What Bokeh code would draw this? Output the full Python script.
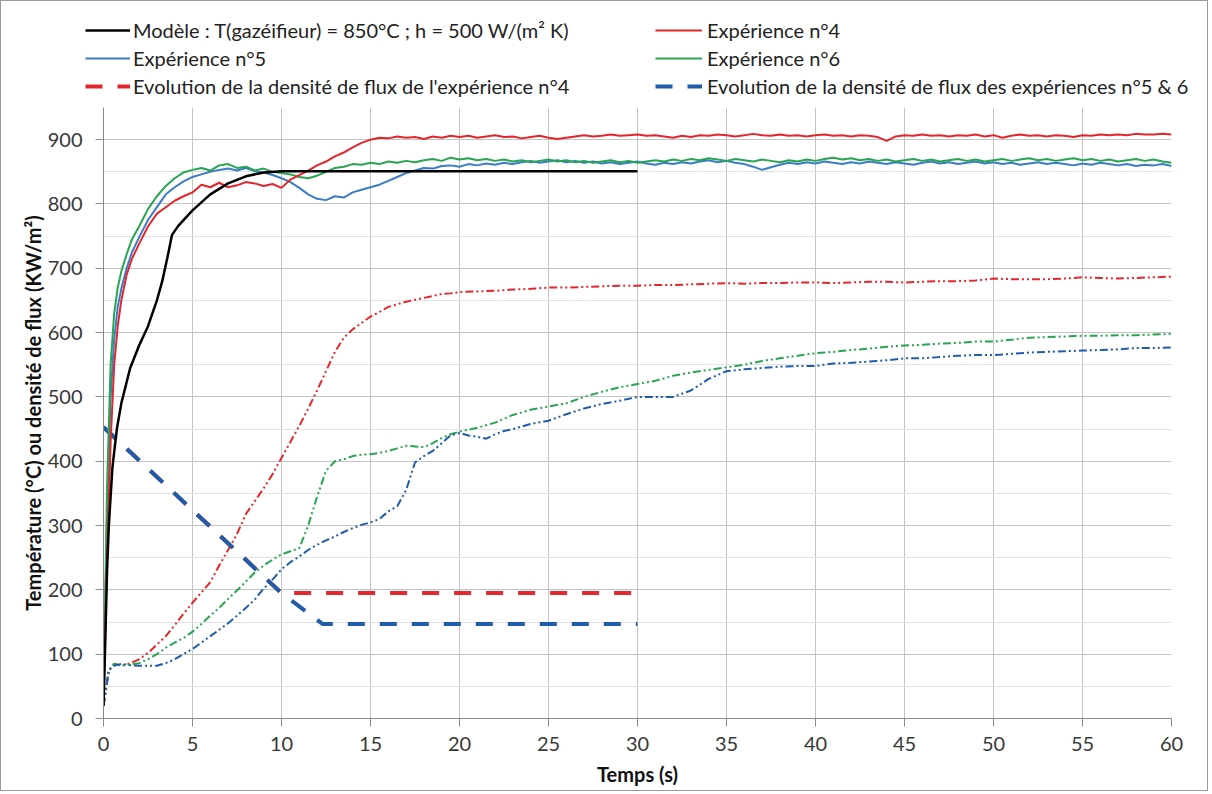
from bokeh.plotting import figure
from bokeh.layouts import column
from bokeh.models import Legend, LegendItem, Range1d, SingleIntervalTicker
from bokeh.embed import file_html
from bokeh.resources import INLINE

# ---------------- data ----------------
t_exp = [0, 0.2, 0.4, 0.6, 0.8, 1.0, 1.3, 1.6] + [2.0 + 0.5 * i for i in range(117)]

exp4 = [20, 250, 430, 550, 610, 650, 690, 715,
        738, 765, 785, 795, 805, 812,
        818, 830, 826, 833, 826, 829, 834, 832, 828, 831,
        825, 838, 845, 852, 860, 866, 874, 880, 888, 895,
        900, 903, 902, 905, 903, 904, 901, 905, 903, 906,
        904, 906, 903, 905, 907, 904, 905, 902, 904, 906,
        903, 901, 903, 905, 907, 905, 906, 908, 906, 907,
        908, 906, 907, 905, 903, 906, 904, 907, 906, 908,
        907, 905, 907, 909, 907, 906, 908, 906, 907, 905,
        907, 908, 906, 907, 905, 907, 906, 904, 898, 905,
        907, 906, 908, 906, 907, 905, 907, 906, 908, 905,
        907, 903, 906, 908, 906, 907, 905, 907, 906, 904,
        907, 906, 908, 907, 908, 907, 909, 908, 908, 909,
        908]

exp5 = [20, 320, 500, 590, 640, 668, 700, 725,
        748, 775, 795, 815, 826, 835,
        842, 846, 850, 853, 855, 852, 856, 851, 849, 845,
        840, 834, 825, 815, 808, 806, 812, 810, 818, 822,
        826, 830, 836, 842, 848, 852, 856, 855, 859, 860,
        858, 862, 860, 863, 861, 864, 862, 865, 867, 864,
        866, 868, 865, 867, 864, 866, 863, 865, 862, 864,
        866, 863, 861, 864, 862, 865, 863, 866, 868, 865,
        867, 864, 862, 858, 853, 857, 861, 864, 862, 865,
        863, 866, 864, 862, 865, 863, 866, 864, 862, 865,
        863, 861, 864, 866, 863, 865, 862, 864, 866, 863,
        865, 862, 864, 861, 863, 865, 862, 864, 862, 860,
        863, 861, 864, 862, 860, 862, 859, 861, 860, 862,
        859]

exp6 = [30, 360, 550, 630, 670, 695, 722, 745,
        765, 792, 812, 828, 840, 849,
        853, 856, 852, 860, 862, 856, 858, 852, 855, 850,
        848, 846, 842, 840, 844, 850, 856, 858, 862, 861,
        864, 862, 866, 864, 867, 865, 868, 870, 867, 872,
        869, 871, 868, 870, 867, 869, 866, 868, 865, 867,
        869, 866, 868, 865, 867, 864, 866, 868, 865, 867,
        864, 866, 868, 866, 869, 867, 870, 868, 871, 869,
        867, 870, 868, 866, 869, 867, 865, 868, 866, 869,
        867, 870, 872, 869, 871, 868, 870, 867, 869, 866,
        868, 870, 867, 869, 866, 868, 870, 867, 869, 866,
        868, 870, 867, 869, 871, 868, 870, 867, 869, 871,
        868, 870, 867, 869, 866, 868, 870, 867, 869, 866,
        864]

t_model = [0, 0.1, 0.2, 0.3, 0.5, 0.75, 1.0, 1.5, 2.0, 2.5, 3.0, 3.3, 3.6, 3.85,
           4.2, 5.0, 6.0, 7.0, 8.0, 9.0, 10.0, 30.0]
model = [20, 120, 230, 300, 390, 450, 490, 545, 580, 610, 650, 680, 718, 752,
         766, 790, 815, 832, 843, 849, 851, 851]

t_dd = [0, 0.3, 0.6, 1.0, 1.5, 2.0, 2.5, 3.0, 3.5, 4.0, 4.5, 5.0, 5.5, 6.0, 6.5, 7.0,
        7.5, 8.0, 8.5, 9.0, 9.5, 10.0, 10.5, 11.0, 11.5, 12.0, 12.5, 13.0, 13.5, 14.0,
        14.5, 15.0, 15.5, 16.0, 16.5, 17.0, 17.5, 18.0, 18.5, 19.0, 19.5, 20.0,
        21, 22, 23, 24, 25, 26, 27, 28, 29, 30, 31, 32, 33, 34, 35, 36, 37, 38, 39, 40,
        41, 42, 43, 44, 45, 46, 47, 48, 49, 50, 51, 52, 53, 54, 55, 56, 57, 58, 59, 60]

dd4 = [20, 75, 85, 82, 86, 92, 102, 115, 128, 145, 163, 180, 196, 212, 238, 262,
       287, 318, 338, 358, 380, 405, 430, 455, 482, 510, 540, 570, 592, 605,
       615, 625, 632, 640, 644, 648, 651, 654, 657, 660, 661, 663,
       664, 665, 667, 668, 670, 670, 671, 672, 673, 673, 674, 674, 675, 676, 677, 676, 677, 677, 678, 678,
       677, 678, 679, 679, 678, 679, 680, 680, 681, 684, 683, 683, 683, 684, 686, 685, 684, 685, 686, 687]

dd6 = [20, 75, 85, 82, 84, 86, 92, 100, 110, 118, 125, 135, 147, 160, 172, 186,
       199, 213, 227, 238, 247, 255, 260, 265, 300, 345, 385, 400, 403, 408,
       410, 411, 413, 416, 420, 424, 423, 422, 428, 436, 442, 446,
       452, 460, 472, 480, 485, 490, 500, 508, 515, 520, 525, 533, 538, 542, 546, 550, 556, 560, 564, 568,
       570, 573, 575, 578, 580, 581, 583, 584, 586, 586, 589, 592, 593, 594, 595, 595, 596, 596, 597, 598]

t_dd5 = [0, 0.3, 0.6, 1.0, 1.5, 2.0, 2.5, 3.0, 3.5, 4.0, 4.5, 5.0, 5.5, 6.0, 6.5, 7.0,
         7.5, 8.0, 8.5, 9.0, 9.5, 10.0, 10.5, 11.0, 11.5, 12.0, 12.5, 13.0, 13.5, 14.0,
         14.5, 15.0, 15.5, 16.0, 16.5, 17.0, 17.5, 18.0, 18.5, 19.0, 19.5, 20.0,
         20.5, 21.0, 21.5, 22.0, 22.5, 23, 24, 25, 26, 27, 28, 29, 30, 31, 32, 33, 34, 35, 36,
         37, 38, 39, 40, 41, 42, 43, 44, 45, 46, 47, 48, 49, 50, 51, 52, 53, 54, 55, 56, 57, 58, 59, 60]
dd5 = [20, 75, 82, 85, 83, 82, 82, 82, 86, 92, 100, 108, 118, 128, 138, 148,
       160, 172, 185, 202, 216, 232, 243, 252, 262, 270, 277, 283, 290, 296,
       301, 305, 310, 322, 330, 355, 398, 408, 416, 428, 440, 444,
       440, 438, 435, 442, 447, 450, 458, 463, 473, 482, 489, 494, 500, 500, 500, 510, 528, 540, 543,
       545, 547, 548, 548, 552, 553, 555, 557, 560, 560, 562, 564, 565, 565, 567, 569, 570, 571, 572, 573, 574, 576, 576, 577]

t_flux4 = [0, 10, 30]
flux4 = [453, 195, 195]
t_flux56 = [0, 10, 12.3, 30]
flux56 = [453, 195, 147, 147]

labels_col1 = ["Modèle : T(gazéifieur) = 850°C ; h = 500 W/(m² K)",
               "Expérience n°5",
               "Evolution de la densité de flux de l'expérience n°4"]
labels_col2 = ["Expérience n°4",
               "Expérience n°6",
               "Evolution de la densité de flux des expériences n°5 & 6"]

RED = "#e3262b"
BLUE = "#3a7cc6"
GREEN = "#27a550"
DBLUE = "#1f5dab"
FONT = "Lato"
DD = "8 3 2 3 2 3"
DASH = "17 15"

# ---------------- main plot ----------------
p = figure(frame_width=1068, frame_height=611,
           min_border_left=102, min_border_right=36, min_border_top=6, min_border_bottom=72,
           x_range=Range1d(0, 60), y_range=Range1d(0, 950),
           output_backend="svg", toolbar_location=None)
p.frame_align = False
p.outline_line_color = None
p.background_fill_color = "white"
p.border_fill_color = "white"

p.xaxis.ticker = SingleIntervalTicker(interval=5, num_minor_ticks=0)
p.yaxis.ticker = SingleIntervalTicker(interval=100, num_minor_ticks=2)
for ax in (p.xaxis[0], p.yaxis[0]):
    ax.axis_line_color = "#8a8a8a"
    ax.major_tick_line_color = "#8a8a8a"
    ax.major_tick_out = 8
    ax.major_tick_in = 0
    ax.minor_tick_line_color = None
    ax.major_label_text_font = FONT
    ax.major_label_text_font_size = "20px"
    ax.major_label_text_color = "#383838"
    ax.axis_label_text_font = FONT
    ax.axis_label_text_font_style = "bold"
    ax.axis_label_text_font_size = "20px"
    ax.axis_label_text_color = "#111111"
p.xaxis.axis_label = "Temps (s)"
p.yaxis.axis_label = "Température (°C) ou densité de flux (KW/m²)"
p.xaxis.major_label_standoff = 10
p.yaxis.major_label_standoff = 13
p.xaxis.axis_label_standoff = 8
p.yaxis.axis_label_standoff = 0

p.xgrid.grid_line_color = "#c4c4c4"
p.ygrid.grid_line_color = "#c4c4c4"
p.ygrid.minor_grid_line_color = "#e2e2e2"


def draw_series(fig):
    fig.line(t_dd, dd4, line_color=RED, line_width=2, line_dash=DD)
    fig.line(t_dd, dd6, line_color=GREEN, line_width=2, line_dash=DD)
    fig.line(t_dd5, dd5, line_color=DBLUE, line_width=2, line_dash=DD)
    rf4 = fig.line(t_flux4, flux4, line_color=RED, line_width=4, line_dash=DASH)
    rf56 = fig.line(t_flux56, flux56, line_color=DBLUE, line_width=4, line_dash=DASH)
    r5 = fig.line(t_exp, exp5, line_color=BLUE, line_width=2)
    r6 = fig.line(t_exp, exp6, line_color=GREEN, line_width=2)
    r4 = fig.line(t_exp, exp4, line_color=RED, line_width=2)
    rm = fig.line(t_model, model, line_color="black", line_width=2.5)
    return rm, r4, r5, r6, rf4, rf56


draw_series(p)

# ---------------- legend strip (same series; its ranges show no data) ----------------
pl = figure(width=1206, height=100, min_border=0,
            x_range=Range1d(1000, 1001), y_range=Range1d(5000, 5001),
            x_axis_location=None, y_axis_location=None,
            output_backend="svg", toolbar_location=None)
pl.frame_align = False
pl.outline_line_color = None
pl.grid.visible = False
pl.background_fill_color = "white"
pl.border_fill_color = "white"

lm, l4, l5, l6, lf4, lf56 = draw_series(pl)


def make_legend(items, x, y, gw, standoff):
    return Legend(items=items, location=(x, y), orientation="vertical",
                  background_fill_alpha=0, border_line_color=None,
                  padding=0, margin=0, spacing=4,
                  glyph_width=gw, glyph_height=24, label_height=24, label_standoff=standoff,
                  label_text_font=FONT, label_text_font_size="20px", label_text_color="#222222")


leg1 = make_legend([LegendItem(label=labels_col1[0], renderers=[lm]),
                    LegendItem(label=labels_col1[1], renderers=[l5]),
                    LegendItem(label=labels_col1[2], renderers=[lf4])], 84, 3, 45, 3)
leg2 = make_legend([LegendItem(label=labels_col2[0], renderers=[l4]),
                    LegendItem(label=labels_col2[1], renderers=[l6]),
                    LegendItem(label=labels_col2[2], renderers=[lf56])], 654, 3, 47, 5)
pl.add_layout(leg1, "center")
pl.add_layout(leg2, "center")

layout = column(pl, p, spacing=0, styles={"border": "1px solid #9a9a9a"})

open("out.html", "w").write(file_html(layout, INLINE))
